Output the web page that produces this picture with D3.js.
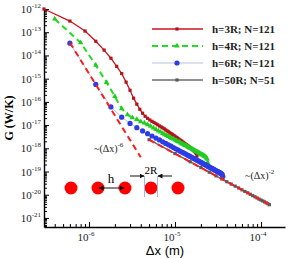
<!DOCTYPE html>
<html>
<head>
<meta charset="utf-8">
<script src="https://cdn.jsdelivr.net/npm/d3@7"></script>
<style>
body { margin: 0; background: #fff; }
svg { display: block; }
text { font-family: "Liberation Serif", "Times New Roman", serif; }
</style>
</head>
<body>
<svg width="290" height="259"></svg>
<script>
// neighbour spacing (m) for each case, series values are log10(G) in W/K
var names = ["h=3R; N=121", "h=4R; N=121", "h=6R; N=121", "h=50R; N=51"];
var pitch = [3e-7, 4e-7, 6e-7, 5e-6];

var logG3R = [-12.00, -12.52, -12.95, -13.39, -13.77, -14.12, -14.47, -14.78, -15.15, -15.50,
	-15.84, -16.10, -16.32, -16.49, -16.62, -16.71, -16.78, -16.84, -16.89, -16.94,
	-16.99, -17.04, -17.08, -17.12, -17.16, -17.21, -17.25, -17.29, -17.33, -17.37,
	-17.40, -17.44, -17.47, -17.51, -17.54, -17.58, -17.61, -17.64, -17.67, -17.70,
	-17.73, -17.76, -17.79, -17.82, -17.84, -17.87, -17.90, -17.92, -17.95, -17.97,
	-18.00, -18.02, -18.05, -18.07, -18.10, -18.12, -18.15, -18.18, -18.23, -18.33];
var logG4R = [-12.43, -13.45, -14.42, -15.16, -15.77, -16.29, -16.55, -16.68, -16.76, -16.85,
	-16.91, -16.98, -17.05, -17.12, -17.19, -17.25, -17.30, -17.36, -17.41, -17.45,
	-17.49, -17.53, -17.57, -17.60, -17.64, -17.67, -17.70, -17.73, -17.77, -17.80,
	-17.82, -17.85, -17.88, -17.90, -17.93, -17.95, -17.98, -18.00, -18.02, -18.05,
	-18.07, -18.09, -18.11, -18.13, -18.15, -18.17, -18.19, -18.21, -18.23, -18.25,
	-18.27, -18.28, -18.30, -18.32, -18.34, -18.35, -18.37, -18.41, -18.46, -18.62];
var logG6R = [-13.47, -15.25, -16.22, -16.66, -16.93, -17.11, -17.25, -17.37, -17.47, -17.56,
	-17.64, -17.72, -17.79, -17.85, -17.91, -17.97, -18.02, -18.07, -18.12, -18.16,
	-18.20, -18.24, -18.28, -18.32, -18.35, -18.39, -18.42, -18.45, -18.48, -18.51,
	-18.54, -18.57, -18.60, -18.62, -18.65, -18.67, -18.70, -18.72, -18.74, -18.77,
	-18.79, -18.81, -18.83, -18.85, -18.87, -18.89, -18.91, -18.93, -18.95, -18.97,
	-18.98, -19.00, -19.02, -19.03, -19.05, -19.07, -19.08, -19.10, -19.13, -19.22];
var logG50R = [-17.63, -18.23, -18.58, -18.83, -19.03, -19.19, -19.32, -19.44, -19.54, -19.63,
	-19.71, -19.79, -19.86, -19.92, -19.98, -20.04, -20.09, -20.14, -20.19, -20.23,
	-20.27, -20.31, -20.35, -20.39, -20.43];

// guide lines ~(dx)^-6 and ~(dx)^-2 (end points)
var guide6x = [6e-7, 4e-6], guide6g = [-13.45, -18.39];
var guide2x = [5e-6, 1.3e-4], guide2g = [-17.63, -20.46];

var xMajor = [1e-6, 1e-5, 1e-4];
var yExp = [-21, -20, -19, -18, -17, -16, -15, -14, -13, -12];

var svg = d3.select("svg");
var x = d3.scaleLog().domain([3e-7, 1.9e-4]).range([44, 285]);
var y = d3.scaleLog().domain([4.07e-22, 1e-12]).range([227, 9]);

function toPts(vals, p) {
	return vals.map((v, i) => ({x: p * (i + 1), g: Math.pow(10, v)}));
}
var sets = [toPts(logG3R, pitch[0]), toPts(logG4R, pitch[1]), toPts(logG6R, pitch[2]), toPts(logG50R, pitch[3])];
var styles = [
	{line: "#c8161d", w: 1.3, dash: null, mark: "sq", fill: "#b3131a", s: 3.2},
	{line: "#22dd22", w: 2, dash: "6,4", mark: "tri", fill: "#22cc22", s: 13},
	{line: "#b8c2e4", w: 1, dash: null, mark: "dot", fill: "#2b3de6", s: 2.6},
	{line: "#6a6a6a", w: 1.5, dash: null, mark: "sq", fill: "#5a5a5a", s: 3.2}
];

var line = d3.line().x(d => x(d.x)).y(d => y(d.g));

function drawMark(g, st, px, py) {
	if (st.mark == "sq") {
		g.append("rect").attr("x", px - st.s / 2).attr("y", py - st.s / 2)
			.attr("width", st.s).attr("height", st.s).attr("fill", st.fill);
	} else if (st.mark == "tri") {
		g.append("path").attr("d", d3.symbol(d3.symbolTriangle).size(st.s)())
			.attr("transform", "translate(" + px + "," + py + ")").attr("fill", st.fill);
	} else {
		g.append("circle").attr("cx", px).attr("cy", py).attr("r", st.s).attr("fill", st.fill);
	}
}

// axes
var minorX = [];
[-7, -6, -5, -4].forEach(e => { for (var m = 2; m <= 9; m++) { var v = m * Math.pow(10, e); if (v > 3e-7 && v < 1.9e-4) minorX.push(v); } });
var minorY = [];
yExp.forEach(e => { for (var m = 2; m <= 9; m++) { var v = m * Math.pow(10, e); if (v < 1e-12) minorY.push(v); } });
[4.5e-22, 5e-22, 6e-22, 7e-22, 8e-22, 9e-22].forEach(v => minorY.push(v));

var gx = svg.append("g").attr("transform", "translate(0,227)");
gx.call(d3.axisBottom(x).tickValues(xMajor).tickSize(-5).tickSizeOuter(0).tickFormat(""));
gx.append("g").call(d3.axisBottom(x).tickValues(minorX).tickSize(-3).tickFormat(""))
	.select(".domain").remove();
var gy = svg.append("g").attr("transform", "translate(44,0)");
gy.call(d3.axisLeft(y).tickValues(yExp.map(e => Math.pow(10, e))).tickSize(-5).tickSizeOuter(0).tickFormat(""));
gy.append("g").call(d3.axisLeft(y).tickValues(minorY).tickSize(-3).tickFormat(""))
	.select(".domain").remove();
svg.selectAll(".domain").attr("stroke", "#000").attr("stroke-width", 1.4);
svg.selectAll(".tick line").attr("stroke", "#000").attr("stroke-width", 1);

xMajor.forEach(v => {
	var t = svg.append("text").attr("x", x(v) - 3).attr("y", 241).attr("text-anchor", "middle")
		.attr("font-size", 11).attr("fill", "#222");
	t.append("tspan").text("10");
	t.append("tspan").attr("font-size", 7).attr("dy", -5).text(Math.round(Math.log10(v)));
});
yExp.forEach(e => {
	var t = svg.append("text").attr("x", 41).attr("y", y(Math.pow(10, e)) + 4).attr("text-anchor", "end")
		.attr("font-size", 11).attr("fill", "#222");
	t.append("tspan").text("10");
	t.append("tspan").attr("font-size", 7).attr("dy", -5).text(e);
});

svg.append("text").attr("transform", "translate(13,118) rotate(-90)").attr("text-anchor", "middle")
	.attr("font-size", 12).attr("font-weight", "bold").text("G (W/K)");
svg.append("text").attr("x", 165).attr("y", 255).attr("text-anchor", "middle")
	.style("font-family", "'Liberation Sans', Arial, sans-serif").attr("font-size", 13).text("\u0394x (m)");

// data
sets.forEach((pts, i) => {
	var st = styles[i];
	var g = svg.append("g");
	g.append("path").datum(pts).attr("d", line).attr("fill", "none")
		.attr("stroke", st.line).attr("stroke-width", st.w).attr("stroke-dasharray", st.dash);
	pts.forEach(d => drawMark(g, st, x(d.x), y(d.g)));
});

// power-law guides
[[guide6x, guide6g], [guide2x, guide2g]].forEach(gd => {
	var pts = gd[0].map((v, i) => ({x: v, g: Math.pow(10, gd[1][i])}));
	svg.append("path").datum(pts).attr("d", line).attr("fill", "none")
		.attr("stroke", "#ff1a1a").attr("stroke-width", 2).attr("stroke-dasharray", "6,4");
});

function powLabel(px, py, exp) {
	var t = svg.append("text").attr("x", px).attr("y", py).attr("font-size", 10).attr("fill", "#222");
	t.append("tspan").text("~(\u0394x)");
	t.append("tspan").attr("font-size", 7).attr("dy", -5).text(exp);
}
powLabel(94, 152, "-6");
powLabel(245, 179, "-2");

// legend
var leg = svg.append("g");
names.forEach((n, i) => {
	var st = styles[i];
	var ly = 29 + i * 17;
	leg.append("line").attr("x1", 152).attr("x2", 203).attr("y1", ly).attr("y2", ly)
		.attr("stroke", st.line).attr("stroke-width", st.w).attr("stroke-dasharray", st.dash);
	drawMark(leg, st, 177, ly);
	leg.append("text").attr("x", 212).attr("y", ly + 4).attr("font-size", 11)
		.attr("font-weight", "bold").attr("fill", "#222").text(n);
});

// sketch of the particle chain
var defs = svg.append("defs");
defs.append("marker").attr("id", "ah").attr("viewBox", "0 0 10 10").attr("refX", 9).attr("refY", 5)
	.attr("markerWidth", 5).attr("markerHeight", 5).attr("orient", "auto-start-reverse")
	.append("path").attr("d", "M0,0L10,5L0,10z").attr("fill", "#111");
var cx = [71, 98, 125, 151, 178];
cx.forEach(c => svg.append("circle").attr("cx", c).attr("cy", 188).attr("r", 6.5).attr("fill", "#ff0000"));
svg.append("line").attr("x1", 99).attr("x2", 124).attr("y1", 188).attr("y2", 188)
	.attr("stroke", "#111").attr("stroke-width", 1).attr("marker-start", "url(#ah)").attr("marker-end", "url(#ah)");
svg.append("text").attr("x", 111).attr("y", 183).attr("text-anchor", "middle").attr("font-size", 13).text("h");
[144.5, 157.5].forEach(v => svg.append("line").attr("x1", v).attr("x2", v).attr("y1", 176).attr("y2", 197)
	.attr("stroke", "#9ab8e0").attr("stroke-width", 1));
svg.append("line").attr("x1", 130).attr("x2", 144).attr("y1", 176).attr("y2", 176)
	.attr("stroke", "#111").attr("stroke-width", 1).attr("marker-end", "url(#ah)");
svg.append("line").attr("x1", 172).attr("x2", 158).attr("y1", 176).attr("y2", 176)
	.attr("stroke", "#111").attr("stroke-width", 1).attr("marker-end", "url(#ah)");
svg.append("text").attr("x", 151).attr("y", 174).attr("text-anchor", "middle").attr("font-size", 11).text("2R");
</script>
</body>
</html>
